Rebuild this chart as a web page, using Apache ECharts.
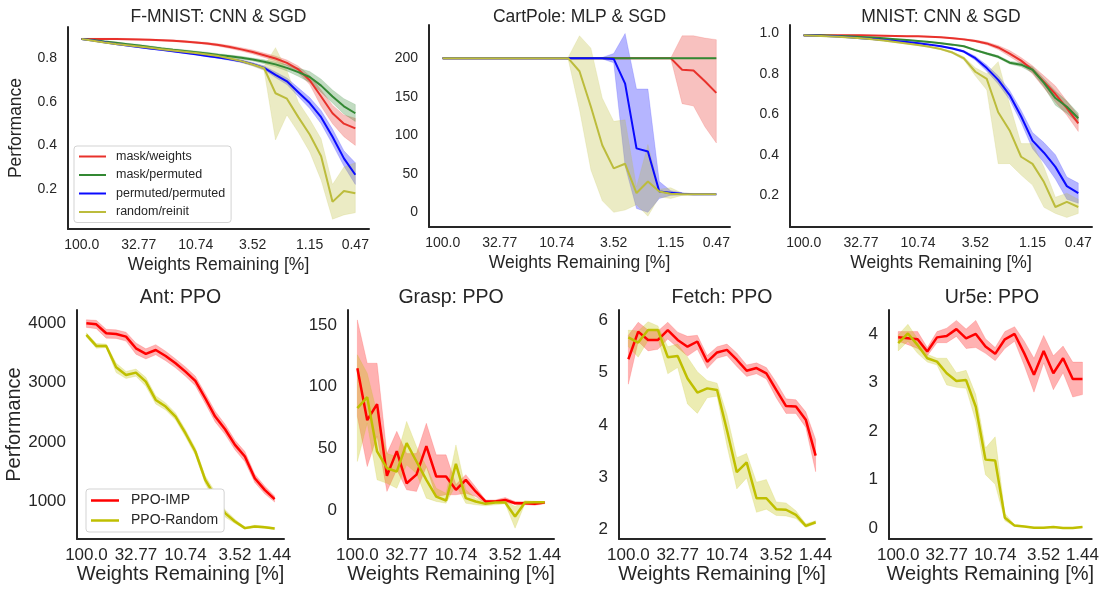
<!DOCTYPE html>
<html>
<head>
<meta charset="utf-8">
<title>Performance vs weights remaining</title>
<script src="https://cdn.jsdelivr.net/npm/echarts@6/dist/echarts.min.js"></script>
<style>
	html, body { margin: 0; padding: 0; background: #fff; }
	#chart { width: 1102px; height: 589px; }
</style>
</head>
<body>
<div id="chart"></div>
<script>
// pruning rounds that carry a tick label, and the label (weights remaining in %)
var topTickPos = [0, 5, 10, 15, 20, 24];
var topTickLabels = ['100.0', '32.77', '10.74', '3.52', '1.15', '0.47'];
var bottomTickPos = [0, 5, 10, 15, 19];
var bottomTickLabels = ['100.0', '32.77', '10.74', '3.52', '1.44'];

var topNames = ['mask/weights', 'mask/permuted', 'permuted/permuted', 'random/reinit'];
var bottomNames = ['PPO-IMP', 'PPO-Random'];

// y tick values per panel
var fmnistYTicks = [0.2, 0.4, 0.6, 0.8];
var cartYTicks = [0, 50, 100, 150, 200];
var mnistYTicks = [0.2, 0.4, 0.6, 0.8, 1.0];
var antYTicks = [1000, 2000, 3000, 4000];
var graspYTicks = [0, 50, 100, 150];
var fetchYTicks = [2, 3, 4, 5, 6];
var ur5eYTicks = [0, 1, 2, 3, 4];

// F-MNIST: CNN & SGD (mean, lower, upper)
var fmWeights = [0.89, 0.89, 0.89, 0.89, 0.889, 0.888, 0.886, 0.884, 0.882, 0.878, 0.874, 0.869, 0.862, 0.853, 0.842, 0.83, 0.815, 0.80, 0.78, 0.75, 0.70, 0.625, 0.548, 0.50, 0.478];
var fmWeightsLo = [0.887, 0.887, 0.887, 0.887, 0.886, 0.885, 0.883, 0.881, 0.878, 0.874, 0.87, 0.864, 0.856, 0.846, 0.834, 0.821, 0.805, 0.789, 0.767, 0.735, 0.68, 0.58, 0.50, 0.44, 0.40];
var fmWeightsHi = [0.893, 0.893, 0.893, 0.893, 0.892, 0.891, 0.889, 0.887, 0.886, 0.882, 0.878, 0.874, 0.868, 0.86, 0.85, 0.839, 0.825, 0.811, 0.793, 0.765, 0.72, 0.655, 0.585, 0.54, 0.525];
var fmPermuted = [0.89, 0.885, 0.878, 0.872, 0.866, 0.86, 0.853, 0.846, 0.84, 0.835, 0.829, 0.823, 0.816, 0.81, 0.803, 0.795, 0.785, 0.773, 0.757, 0.737, 0.715, 0.675, 0.625, 0.58, 0.548];
var fmPermutedLo = [0.888, 0.882, 0.875, 0.868, 0.862, 0.855, 0.848, 0.841, 0.835, 0.83, 0.824, 0.817, 0.81, 0.804, 0.796, 0.788, 0.776, 0.762, 0.743, 0.718, 0.69, 0.645, 0.595, 0.545, 0.51];
var fmPermutedHi = [0.892, 0.888, 0.881, 0.876, 0.87, 0.865, 0.858, 0.851, 0.845, 0.84, 0.834, 0.829, 0.822, 0.816, 0.81, 0.802, 0.794, 0.784, 0.771, 0.756, 0.74, 0.705, 0.655, 0.615, 0.588];
var fmPerm = [0.89, 0.883, 0.875, 0.867, 0.86, 0.853, 0.846, 0.84, 0.833, 0.826, 0.82, 0.812, 0.804, 0.796, 0.787, 0.774, 0.757, 0.725, 0.695, 0.645, 0.595, 0.53, 0.44, 0.34, 0.265];
var fmPermLo = [0.888, 0.88, 0.872, 0.864, 0.857, 0.85, 0.843, 0.837, 0.83, 0.823, 0.816, 0.808, 0.8, 0.791, 0.781, 0.767, 0.748, 0.712, 0.68, 0.625, 0.57, 0.5, 0.405, 0.305, 0.22];
var fmPermHi = [0.892, 0.886, 0.878, 0.87, 0.863, 0.856, 0.849, 0.843, 0.836, 0.829, 0.824, 0.816, 0.808, 0.801, 0.793, 0.781, 0.766, 0.738, 0.71, 0.665, 0.62, 0.56, 0.475, 0.375, 0.32];
var fmRandom = [0.89, 0.882, 0.874, 0.867, 0.861, 0.855, 0.849, 0.843, 0.837, 0.831, 0.825, 0.818, 0.811, 0.80, 0.788, 0.772, 0.755, 0.64, 0.615, 0.53, 0.45, 0.35, 0.14, 0.19, 0.18];
var fmRandomLo = [0.888, 0.879, 0.871, 0.864, 0.858, 0.852, 0.846, 0.84, 0.834, 0.828, 0.821, 0.814, 0.806, 0.795, 0.782, 0.765, 0.745, 0.425, 0.54, 0.46, 0.37, 0.24, 0.06, 0.08, 0.09];
var fmRandomHi = [0.892, 0.885, 0.877, 0.87, 0.864, 0.858, 0.852, 0.846, 0.84, 0.834, 0.829, 0.822, 0.816, 0.805, 0.794, 0.779, 0.765, 0.85, 0.745, 0.60, 0.52, 0.43, 0.22, 0.30, 0.32];

// CartPole: MLP & SGD
var cpWeights = [200, 200, 200, 200, 200, 200, 200, 200, 200, 200, 200, 200, 200, 200, 200, 200, 200, 200, 200, 200, 200, 185, 184, 170, 155];
var cpWeightsLo = [200, 200, 200, 200, 200, 200, 200, 200, 200, 200, 200, 200, 200, 200, 200, 200, 200, 200, 200, 200, 200, 141, 138, 111, 90];
var cpWeightsHi = [200, 200, 200, 200, 200, 200, 200, 200, 200, 200, 200, 200, 200, 200, 200, 200, 200, 200, 200, 200, 200, 229, 229, 226, 224];
var cpPermuted = [200, 200, 200, 200, 200, 200, 200, 200, 200, 200, 200, 200, 200, 200, 200, 200, 200, 200, 200, 200, 200, 200, 200, 200, 200];
var cpPermutedLo = [200, 200, 200, 200, 200, 200, 200, 200, 200, 200, 200, 200, 200, 200, 200, 200, 200, 200, 200, 200, 200, 200, 200, 200, 200];
var cpPermutedHi = [200, 200, 200, 200, 200, 200, 200, 200, 200, 200, 200, 200, 200, 200, 200, 200, 200, 200, 200, 200, 200, 200, 200, 200, 200];
var cpPerm = [200, 200, 200, 200, 200, 200, 200, 200, 200, 200, 200, 200, 200, 200, 200, 199, 167, 83, 79, 27, 25.5, 24, 23.5, 23.5, 23.5];
var cpPermLo = [200, 200, 200, 200, 200, 200, 200, 200, 200, 200, 200, 200, 200, 200, 199, 194, 60, 5, 0, 18, 22, 22.5, 23, 23, 23];
var cpPermHi = [200, 200, 200, 200, 200, 200, 200, 200, 200, 200, 200, 200, 200, 200, 201, 206, 232, 160, 160, 40, 28, 25.5, 24, 24, 24];
var cpRandom = [200, 200, 200, 200, 200, 200, 200, 200, 200, 200, 200, 200, 183, 137, 87, 57, 63, 25, 40, 27, 24, 23.5, 23.5, 23.5, 23.5];
var cpRandomLo = [200, 200, 200, 200, 200, 200, 200, 200, 200, 200, 200, 199, 133, 55, 15, 0, 3, 10, -5, 20, 18, 22, 22.5, 23, 23];
var cpRandomHi = [200, 200, 200, 200, 200, 200, 200, 200, 200, 200, 200, 201, 229, 213, 148, 118, 120, 33, 88, 30, 32, 25, 24.5, 24, 24];

// MNIST: CNN & SGD
var mnWeights = [0.99, 0.99, 0.99, 0.99, 0.99, 0.99, 0.989, 0.988, 0.987, 0.986, 0.985, 0.983, 0.98, 0.976, 0.97, 0.962, 0.95, 0.93, 0.90, 0.865, 0.82, 0.76, 0.70, 0.63, 0.555];
var mnWeightsLo = [0.988, 0.988, 0.988, 0.988, 0.988, 0.988, 0.987, 0.986, 0.985, 0.984, 0.983, 0.981, 0.978, 0.973, 0.966, 0.957, 0.943, 0.92, 0.885, 0.85, 0.80, 0.73, 0.66, 0.595, 0.515];
var mnWeightsHi = [0.992, 0.992, 0.992, 0.992, 0.992, 0.992, 0.991, 0.99, 0.989, 0.988, 0.987, 0.985, 0.982, 0.979, 0.974, 0.967, 0.957, 0.94, 0.915, 0.88, 0.84, 0.79, 0.74, 0.665, 0.595];
var mnPermuted = [0.99, 0.99, 0.989, 0.987, 0.985, 0.982, 0.979, 0.975, 0.971, 0.967, 0.962, 0.957, 0.951, 0.944, 0.936, 0.917, 0.90, 0.884, 0.855, 0.845, 0.82, 0.755, 0.68, 0.637, 0.58];
var mnPermutedLo = [0.988, 0.988, 0.987, 0.985, 0.983, 0.98, 0.977, 0.973, 0.969, 0.965, 0.96, 0.955, 0.949, 0.941, 0.933, 0.913, 0.895, 0.878, 0.848, 0.835, 0.805, 0.735, 0.645, 0.605, 0.555];
var mnPermutedHi = [0.992, 0.992, 0.991, 0.989, 0.987, 0.984, 0.981, 0.977, 0.973, 0.969, 0.964, 0.959, 0.953, 0.947, 0.939, 0.921, 0.905, 0.89, 0.862, 0.855, 0.835, 0.775, 0.715, 0.665, 0.605];
var mnPerm = [0.99, 0.989, 0.987, 0.984, 0.98, 0.976, 0.972, 0.967, 0.962, 0.957, 0.951, 0.944, 0.936, 0.925, 0.91, 0.877, 0.828, 0.77, 0.695, 0.59, 0.47, 0.41, 0.34, 0.245, 0.21];
var mnPermLo = [0.988, 0.987, 0.985, 0.982, 0.978, 0.974, 0.97, 0.965, 0.96, 0.955, 0.948, 0.941, 0.933, 0.921, 0.905, 0.867, 0.813, 0.75, 0.672, 0.56, 0.43, 0.36, 0.28, 0.18, 0.16];
var mnPermHi = [0.992, 0.991, 0.989, 0.986, 0.982, 0.978, 0.974, 0.969, 0.964, 0.959, 0.954, 0.947, 0.939, 0.929, 0.915, 0.887, 0.843, 0.79, 0.718, 0.62, 0.51, 0.46, 0.40, 0.29, 0.26];
var mnRandom = [0.99, 0.988, 0.986, 0.983, 0.979, 0.975, 0.97, 0.964, 0.957, 0.95, 0.942, 0.933, 0.922, 0.905, 0.876, 0.81, 0.775, 0.61, 0.52, 0.39, 0.355, 0.265, 0.142, 0.167, 0.142];
var mnRandomLo = [0.988, 0.986, 0.984, 0.981, 0.977, 0.973, 0.968, 0.962, 0.955, 0.947, 0.939, 0.93, 0.918, 0.9, 0.868, 0.79, 0.72, 0.356, 0.356, 0.30, 0.25, 0.14, 0.11, 0.09, 0.11];
var mnRandomHi = [0.992, 0.99, 0.988, 0.985, 0.981, 0.977, 0.972, 0.966, 0.959, 0.953, 0.945, 0.936, 0.926, 0.91, 0.884, 0.83, 0.80, 0.86, 0.65, 0.455, 0.455, 0.34, 0.19, 0.21, 0.18];

// Ant: PPO
var antImp = [4000, 3983, 3832, 3820, 3776, 3579, 3484, 3551, 3450, 3327, 3187, 3030, 2738, 2430, 2216, 1953, 1757, 1392, 1196, 1039];
var antImpLo = [3930, 3910, 3750, 3745, 3700, 3480, 3400, 3470, 3370, 3250, 3110, 2950, 2650, 2340, 2130, 1870, 1670, 1320, 1130, 990];
var antImpHi = [4060, 4050, 3900, 3890, 3850, 3670, 3570, 3640, 3530, 3400, 3265, 3110, 2820, 2520, 2300, 2030, 1840, 1460, 1260, 1090];
var antRandom = [3804, 3619, 3619, 3260, 3131, 3170, 3018, 2710, 2598, 2430, 2149, 1841, 1364, 1084, 803, 663, 551, 579, 567, 545];
var antRandomLo = [3770, 3580, 3590, 3170, 3070, 3110, 2940, 2640, 2540, 2370, 2090, 1780, 1300, 1000, 740, 630, 535, 560, 550, 530];
var antRandomHi = [3840, 3660, 3650, 3330, 3190, 3230, 3090, 2780, 2660, 2490, 2210, 1900, 1430, 1160, 860, 700, 570, 600, 585, 560];

// Grasp: PPO
var graspImp = [115, 73, 86, 28, 48, 22, 29, 52, 27.5, 27.5, 16.7, 24.8, 15.4, 7.3, 7.3, 8.6, 5.9, 5.9, 5.4, 6.5];
var graspImpLo = [76, 35.5, 60, 15.4, 33, 16.7, 15.4, 35.5, 11.3, 12.7, 12.7, 14, 11.3, 5.9, 6.5, 6.5, 5, 4.7, 4.2, 5.4];
var graspImpHi = [154, 119, 119, 46, 64, 46, 46, 70.5, 45, 45, 21, 29, 19, 8.6, 8.6, 10.5, 7.3, 7, 6.6, 7.3];
var graspRandom = [82.7, 91.6, 47.7, 34.2, 31.5, 54.4, 39.6, 24.8, 11.3, 8.1, 37.7, 10, 7.3, 5.4, 6.5, 6.5, -4.8, 6.5, 6.7, 6.7];
var graspRandomLo = [39.6, 70.6, 24.8, 22, 18, 36.9, 30, 10, 7.3, 5.9, 20.7, 5.9, 4.6, 3.8, 4.6, 5.4, -14.3, 5.4, 5.9, 5.9];
var graspRandomHi = [125.8, 111, 78.6, 46, 43.6, 72, 51.7, 35.5, 18, 14, 53, 16.7, 10, 7, 8.3, 8, 3.2, 8, 7.5, 7.3];

// Fetch: PPO
var fetchImp = [5.26, 5.79, 5.63, 5.63, 5.82, 5.63, 5.50, 5.60, 5.21, 5.39, 5.44, 5.25, 5.04, 5.09, 4.99, 4.67, 4.36, 4.35, 4.10, 3.41];
var fetchImpLo = [4.78, 5.6, 5.42, 5.45, 5.65, 5.48, 5.32, 5.45, 5.08, 5.28, 5.33, 5.12, 4.93, 4.98, 4.88, 4.52, 4.22, 4.22, 3.95, 3.1];
var fetchImpHi = [5.72, 5.97, 5.82, 5.8, 5.97, 5.78, 5.7, 5.72, 5.33, 5.5, 5.55, 5.38, 5.15, 5.19, 5.1, 4.82, 4.5, 4.48, 4.25, 3.72];
var fetchRandom = [5.68, 5.58, 5.82, 5.82, 5.30, 5.32, 4.89, 4.62, 4.70, 4.67, 3.90, 3.09, 3.28, 2.59, 2.59, 2.38, 2.37, 2.27, 2.06, 2.13];
var fetchRandomLo = [5.5, 5.3, 5.62, 5.65, 4.98, 5.1, 4.4, 4.22, 4.52, 4.55, 3.6, 2.77, 2.98, 2.32, 2.38, 2.26, 2.25, 2.2, 2.03, 2.1];
var fetchRandomHi = [5.82, 5.8, 5.98, 5.9, 5.5, 5.55, 5.3, 5.02, 4.85, 4.8, 4.2, 3.37, 3.45, 2.9, 2.95, 2.52, 2.5, 2.35, 2.1, 2.16];

// Ur5e: PPO
var ur5eImp = [3.93, 3.91, 3.89, 3.64, 3.93, 3.96, 4.10, 3.91, 4.0, 3.74, 3.59, 3.89, 4.0, 3.60, 3.16, 3.65, 3.19, 3.50, 3.07, 3.07];
var ur5eImpLo = [3.85, 3.78, 3.7, 3.55, 3.82, 3.82, 3.95, 3.7, 3.72, 3.6, 3.45, 3.7, 3.85, 3.35, 2.8, 3.4, 2.85, 3.2, 2.7, 2.75];
var ur5eImpHi = [4.05, 4.05, 4.05, 3.72, 4.05, 4.12, 4.28, 4.1, 4.28, 3.9, 3.72, 4.05, 4.15, 3.85, 3.5, 3.97, 3.55, 3.75, 3.42, 3.42];
var ur5eRandom = [3.81, 4.01, 3.77, 3.50, 3.43, 3.19, 3.03, 3.05, 2.50, 1.41, 1.39, 0.21, 0.05, 0.03, 0.007, 0.007, 0.02, 0, 0, 0.02];
var ur5eRandomLo = [3.65, 3.85, 3.6, 3.42, 3.36, 2.95, 2.9, 2.88, 2.2, 1.1, 0.9, 0.15, 0.03, 0.02, 0, 0, 0.01, 0, 0, 0.01];
var ur5eRandomHi = [3.98, 4.2, 3.9, 3.58, 3.5, 3.5, 3.2, 3.25, 2.75, 1.65, 1.88, 0.3, 0.07, 0.04, 0.015, 0.015, 0.03, 0.01, 0.01, 0.03];

var FONT = '"Liberation Sans", Arial, sans-serif';
var TEXT = '#262626';
var topColors = ['#e8312b', '#338833', '#0a0aff', '#bcbc3c'];
var bottomColors = ['#ff0000', '#bfbf00'];

function seriesSet(names, colors, means, los, his) {
	return names.map(function (n, k) {
		return { name: n, color: colors[k], mean: means[k], lo: los[k], hi: his[k] };
	});
}

var panels = [
	{ title: 'F-MNIST: CNN & SGD', row: 'top', left: 68, top: 27, width: 301, height: 202, yMin: 0.015, yMax: 0.945, yTicks: fmnistYTicks, decimals: 1, yName: 'Performance',
		lines: seriesSet(topNames, topColors, [fmWeights, fmPermuted, fmPerm, fmRandom], [fmWeightsLo, fmPermutedLo, fmPermLo, fmRandomLo], [fmWeightsHi, fmPermutedHi, fmPermHi, fmRandomHi]) },
	{ title: 'CartPole: MLP & SGD', row: 'top', left: 429, top: 25, width: 301, height: 202, yMin: -19, yMax: 243, yTicks: cartYTicks, decimals: 0,
		lines: seriesSet(topNames, topColors, [cpWeights, cpPermuted, cpPerm, cpRandom], [cpWeightsLo, cpPermutedLo, cpPermLo, cpRandomLo], [cpWeightsHi, cpPermutedHi, cpPermHi, cpRandomHi]) },
	{ title: 'MNIST: CNN & SGD', row: 'top', left: 790, top: 25, width: 302, height: 202, yMin: 0.043, yMax: 1.041, yTicks: mnistYTicks, decimals: 1,
		lines: seriesSet(topNames, topColors, [mnWeights, mnPermuted, mnPerm, mnRandom], [mnWeightsLo, mnPermutedLo, mnPermLo, mnRandomLo], [mnWeightsHi, mnPermutedHi, mnPermHi, mnRandomHi]) },
	{ title: 'Ant: PPO', row: 'bottom', left: 77, top: 310, width: 207, height: 229, yMin: 368, yMax: 4224, yTicks: antYTicks, decimals: 0, yName: 'Performance',
		lines: seriesSet(bottomNames, bottomColors, [antImp, antRandom], [antImpLo, antRandomLo], [antImpHi, antRandomHi]) },
	{ title: 'Grasp: PPO', row: 'bottom', left: 348, top: 310, width: 206, height: 229, yMin: -23, yMax: 162, yTicks: graspYTicks, decimals: 0,
		lines: seriesSet(bottomNames, bottomColors, [graspImp, graspRandom], [graspImpLo, graspRandomLo], [graspImpHi, graspRandomHi]) },
	{ title: 'Fetch: PPO', row: 'bottom', left: 619, top: 310, width: 206, height: 229, yMin: 1.808, yMax: 6.205, yTicks: fetchYTicks, decimals: 0,
		lines: seriesSet(bottomNames, bottomColors, [fetchImp, fetchRandom], [fetchImpLo, fetchRandomLo], [fetchImpHi, fetchRandomHi]) },
	{ title: 'Ur5e: PPO', row: 'bottom', left: 889, top: 310, width: 206, height: 229, yMin: -0.226, yMax: 4.494, yTicks: ur5eYTicks, decimals: 0,
		lines: seriesSet(bottomNames, bottomColors, [ur5eImp, ur5eRandom], [ur5eImpLo, ur5eRandomLo], [ur5eImpHi, ur5eRandomHi]) }
];

function hexToRgba(hex, a) {
	var n = parseInt(hex.slice(1), 16);
	return 'rgba(' + (n >> 16 & 255) + ',' + (n >> 8 & 255) + ',' + (n & 255) + ',' + a + ')';
}

/** band between lo and hi, drawn as one polygon through the axis scales */
function bandSeries(idx, line) {
	var lo = line.lo, hi = line.hi;
	return {
		type: 'custom',
		name: 'band ' + line.name,
		xAxisIndex: idx,
		yAxisIndex: idx,
		silent: true,
		data: lo.map(function (v, i) { return [i, v, hi[i]]; }),
		encode: { x: 0, y: [1, 2] },
		renderItem: function (params, api) {
			if (params.dataIndex !== 0) {
				return null;
			}
			var pts = [];
			for (var i = 0; i < hi.length; i++) {
				pts.push(api.coord([i, hi[i]]));
			}
			for (var j = lo.length - 1; j >= 0; j--) {
				pts.push(api.coord([j, lo[j]]));
			}
			return {
				type: 'polygon',
				shape: { points: pts },
				style: { fill: hexToRgba(line.color, 0.3), stroke: hexToRgba(line.color, 0.15), lineWidth: 1 }
			};
		}
	};
}

var option = {
	backgroundColor: '#fff',
	animation: false,
	title: [],
	grid: [],
	xAxis: [],
	yAxis: [],
	series: [],
	legend: [
		{
			data: topNames, orient: 'vertical', left: 74, top: 146, icon: 'rect',
			itemWidth: 27, itemHeight: 2, itemGap: 3.5, padding: [3, 6, 3, 5],
			backgroundColor: '#fff', borderColor: '#d3d3d3', borderWidth: 1, borderRadius: 3,
			selectedMode: false,
			textStyle: { fontFamily: FONT, fontSize: 12.5, color: TEXT, lineHeight: 15, padding: [0, 0, 0, 5] }
		},
		{
			data: bottomNames, orient: 'vertical', left: 86, top: 489, icon: 'rect',
			itemWidth: 28, itemHeight: 2.5, itemGap: 3, padding: [3, 6, 3, 5],
			backgroundColor: '#fff', borderColor: '#d3d3d3', borderWidth: 1, borderRadius: 3,
			selectedMode: false,
			textStyle: { fontFamily: FONT, fontSize: 14, color: TEXT, lineHeight: 17, padding: [0, 0, 0, 7] }
		}
	]
};

panels.forEach(function (p, idx) {
	var isTop = p.row === 'top';
	var tickPos = isTop ? topTickPos : bottomTickPos;
	var tickLabels = isTop ? topTickLabels : bottomTickLabels;
	var lastX = tickPos[tickPos.length - 1];
	var pad = lastX * 0.05;
	var tickFont = isTop ? 14 : 17;
	var nameFont = isTop ? 17.5 : 20;

	option.title.push({
		text: p.title,
		left: p.left + p.width / 2,
		top: isTop ? 8 : 288,
		textAlign: 'center',
		padding: 0,
		textStyle: { fontFamily: FONT, fontSize: isTop ? 17.5 : 19.5, fontWeight: 'normal', color: TEXT }
	});
	option.grid.push({ left: p.left, top: p.top, width: p.width, height: p.height, containLabel: false });
	option.xAxis.push({
		type: 'value',
		gridIndex: idx,
		min: -pad,
		max: lastX + pad,
		name: 'Weights Remaining [%]',
		nameLocation: 'middle',
		nameGap: isTop ? 27 : 24,
		nameTextStyle: { fontFamily: FONT, fontSize: nameFont, color: TEXT },
		axisLine: { onZero: false, lineStyle: { color: TEXT, width: 2 } },
		axisTick: { show: false },
		splitLine: { show: false },
		axisLabel: {
			customValues: tickPos,
			margin: isTop ? 9 : 8,
			fontFamily: FONT, fontSize: tickFont, color: TEXT,
			formatter: function (v) {
				var k = tickPos.indexOf(Math.round(v));
				return k >= 0 ? tickLabels[k] : '';
			}
		}
	});
	option.yAxis.push({
		type: 'value',
		gridIndex: idx,
		min: p.yMin,
		max: p.yMax,
		name: p.yName || '',
		nameLocation: 'middle',
		nameGap: isTop ? 43 : 47,
		nameTextStyle: { fontFamily: FONT, fontSize: nameFont, color: TEXT },
		axisLine: { show: true, onZero: false, lineStyle: { color: TEXT, width: 2 } },
		axisTick: { show: false },
		splitLine: { show: false },
		axisLabel: {
			customValues: p.yTicks,
			margin: 11,
			fontFamily: FONT, fontSize: tickFont, color: TEXT,
			formatter: function (v) { return v.toFixed(p.decimals); }
		}
	});
	p.lines.forEach(function (line) {
		option.series.push(bandSeries(idx, line));
		option.series.push({
			type: 'line',
			name: line.name,
			xAxisIndex: idx,
			yAxisIndex: idx,
			color: line.color,
			symbol: 'none',
			silent: true,
			lineStyle: { width: isTop ? 2 : 2.5, color: line.color },
			data: line.mean.map(function (v, i) { return [i, v]; })
		});
	});
});

var chart = echarts.init(document.getElementById('chart'), null, { renderer: 'canvas' });
chart.setOption(option);
</script>
</body>
</html>
